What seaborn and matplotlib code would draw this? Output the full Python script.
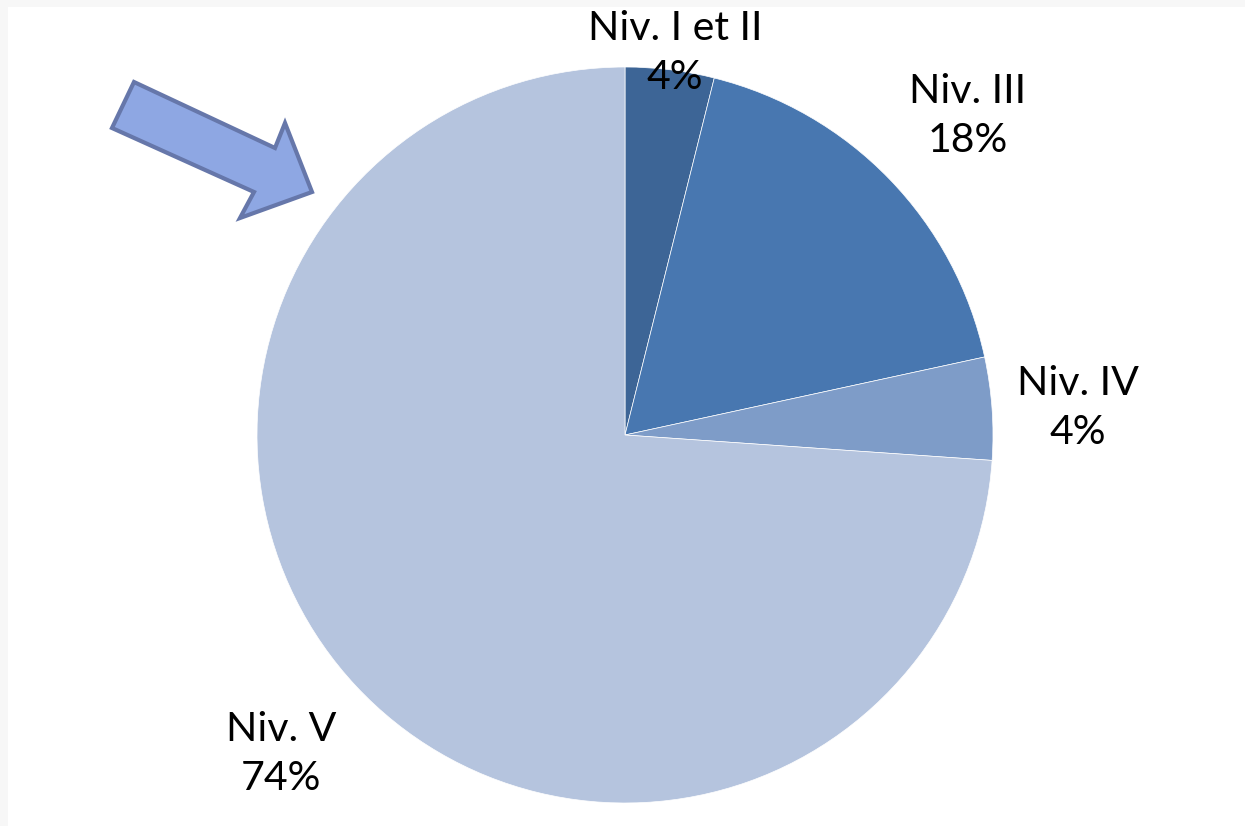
import matplotlib
matplotlib.use("Agg")
import matplotlib.pyplot as plt
from matplotlib.patches import Polygon, Rectangle
import seaborn as sns

# Data
categories = ["Niv. I et II", "Niv. III", "Niv. IV", "Niv. V"]
values = [3.9, 17.7, 4.5, 73.9]
pct_labels = ["4%", "18%", "4%", "74%"]
colors = ["#3d6596", "#4877b0", "#7e9cc8", "#b5c4de"]

sns.set_theme(style="white")
plt.rcParams['font.family'] = ['Lato', 'DejaVu Sans']

W, H = 1245, 826
fig = plt.figure(figsize=(W / 100, H / 100), dpi=100)
fig.patch.set_facecolor("#f7f7f7")
ax = fig.add_axes([0, 0, 1, 1])
ax.set_facecolor("none")

# white panel
ax.add_patch(Rectangle((8, 0), W - 8, H - 7, facecolor="white", edgecolor="none", zorder=0))

cx, cy, r = 625, H - 435, 368
ax.pie(values, colors=colors, startangle=90, counterclock=False,
       center=(cx, cy), radius=r,
       wedgeprops=dict(edgecolor="white", linewidth=0.5))

# labels
label_pos = [(675, 53), (968, 116), (1078, 408), (281, 754)]
for cat, pct, (x, y) in zip(categories, pct_labels, label_pos):
    ax.text(x, H - y, f"{cat}\n{pct}", ha="center", va="center",
            multialignment="center", fontsize=29.5, linespacing=1.42, color="black")

# block arrow
arrow_px = [(134, 82), (275, 148), (285, 123), (312, 192), (240, 218), (254, 192), (112, 128)]
ax.add_patch(Polygon([(x, H - y) for x, y in arrow_px], closed=True,
                     facecolor="#8ea7e3", edgecolor="#6677aa", linewidth=3, zorder=5))

ax.set_xlim(0, W)
ax.set_ylim(0, H)
ax.set_aspect("equal")
ax.axis("off")

fig.savefig("out.png", dpi=100, facecolor=fig.get_facecolor())
